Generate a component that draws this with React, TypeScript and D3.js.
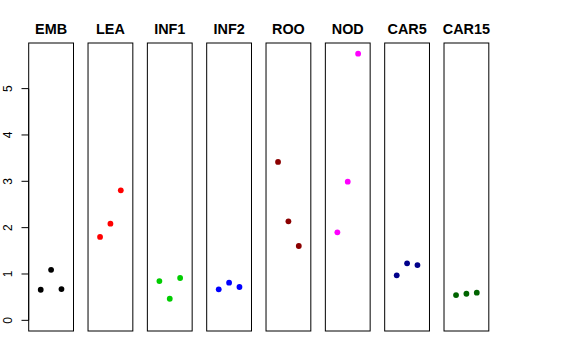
import React from "react";
import * as d3 from "d3";

const categories = ["EMB", "LEA", "INF1", "INF2", "ROO", "NOD", "CAR5", "CAR15"];
const colors = ["#000000", "#FF0000", "#00CD00", "#0000FF", "#8B0000", "#FF00FF", "#00008B", "#006400"];
const values: number[][] = [
  [0.66, 1.09, 0.675],
  [1.8, 2.085, 2.806],
  [0.848, 0.466, 0.913],
  [0.669, 0.812, 0.719],
  [3.417, 2.137, 1.604],
  [1.899, 2.992, 5.754],
  [0.971, 1.23, 1.193],
  [0.546, 0.574, 0.597],
];
const yTicks = [0, 1, 2, 3, 4, 5];

export default function App() {
  const W = 576, H = 360;
  const top = 43, bottom = 331;
  const firstLeft = 28.7, step = 59.33, pw = 44.8;
  const yMax = d3.max(values.flat()) as number;
  const pad = 0.04 * yMax;
  const y = d3.scaleLinear().domain([0 - pad, yMax + pad]).range([bottom, top]);
  const panelX = d3.scaleLinear().domain([0, 1]).range([firstLeft, firstLeft + step]);
  const font = "'Liberation Sans', Arial, Helvetica, sans-serif";
  return (
    <svg width={W} height={H} style={{ position: "absolute", left: 0, top: 0, background: "#fff" }} fontFamily={font}>
      <rect x={0} y={0} width={W} height={H} fill="#fff" />
      {categories.map((c, i) => {
        const left = panelX(i);
        const x = d3.scaleLinear().domain([-0.16, 4.16]).range([left, left + pw]);
        return (
          <g key={c}>
            <rect x={left} y={top} width={pw} height={bottom - top} fill="none" stroke="#000" strokeWidth={1} />
            <text x={left + pw / 2} y={34} textAnchor="middle" fontWeight="bold" fontSize={14.4}>{c}</text>
            {values[i].map((v, j) => (
              <circle key={j} cx={x(j + 1)} cy={y(v)} r={2.9} fill={colors[i]} />
            ))}
          </g>
        );
      })}
      <line x1={firstLeft} x2={firstLeft} y1={y(0)} y2={y(5)} stroke="#000" />
      {yTicks.map((t) => (
        <g key={t}>
          <line x1={21.5} x2={firstLeft} y1={y(t)} y2={y(t)} stroke="#000" />
          <text transform={`translate(11.7,${y(t)}) rotate(-90)`} textAnchor="middle" fontSize={12}>{t}</text>
        </g>
      ))}
    </svg>
  );
}
